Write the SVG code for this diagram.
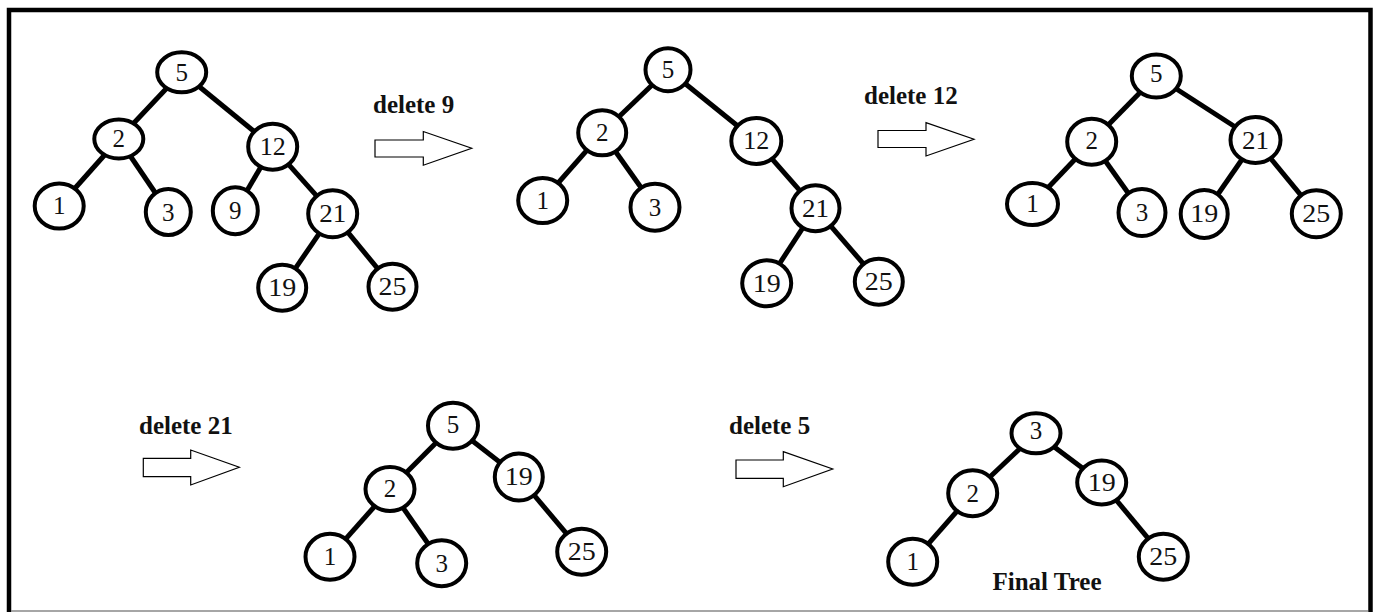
<svg xmlns="http://www.w3.org/2000/svg" width="1379" height="612" viewBox="0 0 1379 612">
<style>
.n ellipse{fill:#fff;stroke:#000;stroke-width:4}
.n text{font-family:"Liberation Serif","Times New Roman",serif;font-size:25px;fill:#111;text-anchor:middle}
.e line{stroke:#000;stroke-width:5;stroke-linecap:butt}
.lbl{font-family:"Liberation Serif","Times New Roman",serif;font-size:25px;font-weight:bold;fill:#111}
.arr{fill:#fff;stroke:#000;stroke-width:1.2;stroke-linejoin:miter}
</style>
<rect x="0" y="0" width="1379" height="612" fill="#fff"/>
<path d="M9,612 V10 H1370.5 V612" fill="none" stroke="#000" stroke-width="4.5"/>
<line x1="11" y1="611" x2="1368" y2="611" stroke="#888" stroke-width="1.5"/>

<g id="connectors" class="e">
<line x1="181.7" y1="72.3" x2="118.8" y2="139"/>
<line x1="181.7" y1="72.3" x2="272.7" y2="146.7"/>
<line x1="118.8" y1="139" x2="59.2" y2="206"/>
<line x1="118.8" y1="139" x2="168.3" y2="212"/>
<line x1="272.7" y1="146.7" x2="235.3" y2="210.8"/>
<line x1="272.7" y1="146.7" x2="332.7" y2="213.8"/>
<line x1="332.7" y1="213.8" x2="282.2" y2="287.7"/>
<line x1="332.7" y1="213.8" x2="392.5" y2="286.7"/>
<line x1="668" y1="69.7" x2="602.2" y2="132.8"/>
<line x1="668" y1="69.7" x2="756.3" y2="141"/>
<line x1="602.2" y1="132.8" x2="542.7" y2="200.5"/>
<line x1="602.2" y1="132.8" x2="655" y2="207.2"/>
<line x1="756.3" y1="141" x2="815.5" y2="208.3"/>
<line x1="815.5" y1="208.3" x2="766.7" y2="283.3"/>
<line x1="815.5" y1="208.3" x2="878.8" y2="281.7"/>
<line x1="1156.3" y1="76" x2="1091.7" y2="141.7"/>
<line x1="1156.3" y1="76" x2="1255.5" y2="140"/>
<line x1="1091.7" y1="141.7" x2="1032.5" y2="204"/>
<line x1="1091.7" y1="141.7" x2="1142" y2="212.5"/>
<line x1="1255.5" y1="140" x2="1204.2" y2="214"/>
<line x1="1255.5" y1="140" x2="1316.3" y2="213.8"/>
<line x1="453" y1="425.7" x2="390" y2="489"/>
<line x1="453" y1="425.7" x2="518.8" y2="477"/>
<line x1="390" y1="489" x2="330" y2="556.7"/>
<line x1="390" y1="489" x2="441.7" y2="563.3"/>
<line x1="518.8" y1="477" x2="581.7" y2="551.7"/>
<line x1="1036" y1="433.3" x2="972.7" y2="493.3"/>
<line x1="1036" y1="433.3" x2="1101.7" y2="482.5"/>
<line x1="972.7" y1="493.3" x2="912.7" y2="561.7"/>
<line x1="1101.7" y1="482.5" x2="1163.3" y2="556.7"/>
</g>

<g id="t1-n5" class="n"><ellipse cx="181.7" cy="72.3" rx="24.5" ry="20"/><text x="181.7" y="80.5">5</text></g>
<g id="t1-n2" class="n"><ellipse cx="118.8" cy="139" rx="24.5" ry="19.5"/><text x="118.8" y="147">2</text></g>
<g id="t1-n12" class="n"><ellipse cx="272.7" cy="146.7" rx="24.5" ry="23"/><text x="272.7" y="155" textLength="26" lengthAdjust="spacingAndGlyphs">12</text></g>
<g id="t1-n1" class="n"><ellipse cx="59.2" cy="206" rx="24.5" ry="22.5"/><text x="59.2" y="213.5">1</text></g>
<g id="t1-n3" class="n"><ellipse cx="168.3" cy="212" rx="22.5" ry="23"/><text x="168.3" y="220.5">3</text></g>
<g id="t1-n9" class="n"><ellipse cx="235.3" cy="210.8" rx="22.5" ry="23.5"/><text x="235.3" y="218.5">9</text></g>
<g id="t1-n21" class="n"><ellipse cx="332.7" cy="213.8" rx="24.5" ry="23.5"/><text x="332.7" y="222" textLength="27" lengthAdjust="spacingAndGlyphs">21</text></g>
<g id="t1-n19" class="n"><ellipse cx="282.2" cy="287.7" rx="24" ry="23"/><text x="282.2" y="296" textLength="28" lengthAdjust="spacingAndGlyphs">19</text></g>
<g id="t1-n25" class="n"><ellipse cx="392.5" cy="286.7" rx="24" ry="23"/><text x="392.5" y="295" textLength="28" lengthAdjust="spacingAndGlyphs">25</text></g>

<g id="t2-n5" class="n"><ellipse cx="668" cy="69.7" rx="22.5" ry="21.5"/><text x="668" y="77.5">5</text></g>
<g id="t2-n2" class="n"><ellipse cx="602.2" cy="132.8" rx="24" ry="22.5"/><text x="602.2" y="141">2</text></g>
<g id="t2-n12" class="n"><ellipse cx="756.3" cy="141" rx="25" ry="23"/><text x="756.3" y="149" textLength="26" lengthAdjust="spacingAndGlyphs">12</text></g>
<g id="t2-n1" class="n"><ellipse cx="542.7" cy="200.5" rx="24.5" ry="22.5"/><text x="542.7" y="208.5">1</text></g>
<g id="t2-n3" class="n"><ellipse cx="655" cy="207.2" rx="24.5" ry="23.5"/><text x="655" y="215.5">3</text></g>
<g id="t2-n21" class="n"><ellipse cx="815.5" cy="208.3" rx="24" ry="23"/><text x="815.5" y="216.5" textLength="27" lengthAdjust="spacingAndGlyphs">21</text></g>
<g id="t2-n19" class="n"><ellipse cx="766.7" cy="283.3" rx="24.5" ry="23"/><text x="766.7" y="291.5" textLength="28" lengthAdjust="spacingAndGlyphs">19</text></g>
<g id="t2-n25" class="n"><ellipse cx="878.8" cy="281.7" rx="24" ry="23"/><text x="878.8" y="289.5" textLength="28" lengthAdjust="spacingAndGlyphs">25</text></g>

<g id="t3-n5" class="n"><ellipse cx="1156.3" cy="76" rx="24.5" ry="21.5"/><text x="1156.3" y="81.5">5</text></g>
<g id="t3-n2" class="n"><ellipse cx="1091.7" cy="141.7" rx="24.5" ry="23"/><text x="1091.7" y="148.5">2</text></g>
<g id="t3-n21" class="n"><ellipse cx="1255.5" cy="140" rx="25" ry="23"/><text x="1255.5" y="148.5" textLength="27" lengthAdjust="spacingAndGlyphs">21</text></g>
<g id="t3-n1" class="n"><ellipse cx="1032.5" cy="204" rx="25.5" ry="21"/><text x="1032.5" y="211.5">1</text></g>
<g id="t3-n3" class="n"><ellipse cx="1142" cy="212.5" rx="23.5" ry="23.5"/><text x="1142" y="220.5">3</text></g>
<g id="t3-n19" class="n"><ellipse cx="1204.2" cy="214" rx="23.5" ry="24"/><text x="1204.2" y="222" textLength="28" lengthAdjust="spacingAndGlyphs">19</text></g>
<g id="t3-n25" class="n"><ellipse cx="1316.3" cy="213.8" rx="24.5" ry="23.5"/><text x="1316.3" y="222" textLength="28" lengthAdjust="spacingAndGlyphs">25</text></g>

<g id="t4-n5" class="n"><ellipse cx="453" cy="425.7" rx="25" ry="23"/><text x="453" y="432.5">5</text></g>
<g id="t4-n19" class="n"><ellipse cx="518.8" cy="477" rx="24" ry="23.5"/><text x="518.8" y="484.5" textLength="28" lengthAdjust="spacingAndGlyphs">19</text></g>
<g id="t4-n2" class="n"><ellipse cx="390" cy="489" rx="24.5" ry="22"/><text x="390" y="497">2</text></g>
<g id="t4-n1" class="n"><ellipse cx="330" cy="556.7" rx="24.5" ry="23"/><text x="330" y="564.5">1</text></g>
<g id="t4-n3" class="n"><ellipse cx="441.7" cy="563.3" rx="24.5" ry="23"/><text x="441.7" y="571.5">3</text></g>
<g id="t4-n25" class="n"><ellipse cx="581.7" cy="551.7" rx="24.5" ry="23"/><text x="581.7" y="559.5" textLength="28" lengthAdjust="spacingAndGlyphs">25</text></g>

<g id="t5-n3" class="n"><ellipse cx="1036" cy="433.3" rx="24.5" ry="20"/><text x="1036" y="439">3</text></g>
<g id="t5-n2" class="n"><ellipse cx="972.7" cy="493.3" rx="24.5" ry="23"/><text x="972.7" y="501.5">2</text></g>
<g id="t5-n19" class="n"><ellipse cx="1101.7" cy="482.5" rx="24.5" ry="22"/><text x="1101.7" y="490.5" textLength="28" lengthAdjust="spacingAndGlyphs">19</text></g>
<g id="t5-n1" class="n"><ellipse cx="912.7" cy="561.7" rx="24.5" ry="23"/><text x="912.7" y="569.5">1</text></g>
<g id="t5-n25" class="n"><ellipse cx="1163.3" cy="556.7" rx="24.5" ry="23"/><text x="1163.3" y="564.5" textLength="28" lengthAdjust="spacingAndGlyphs">25</text></g>

<g id="step-delete-9">
<polygon class="arr" points="375,140 423.3,140 423.3,131.5 471.7,148.3 423.3,165.2 423.3,157 375,157"/>
<text class="lbl" x="373" y="113">delete 9</text>
</g>
<g id="step-delete-12">
<polygon class="arr" points="878,130.5 926,130.5 926,122.7 974,139.3 926,156 926,147.5 878,147.5"/>
<text class="lbl" x="864" y="103.5">delete 12</text>
</g>
<g id="step-delete-21">
<polygon class="arr" points="143.3,458.3 190.7,458.3 190.7,450 239.3,467.3 190.7,485 190.7,476.7 143.3,476.7"/>
<text class="lbl" x="139" y="433.5">delete 21</text>
</g>
<g id="step-delete-5">
<polygon class="arr" points="736,460 783.3,460 783.3,451.7 832.7,469 783.3,486.7 783.3,478.3 736,478.3"/>
<text class="lbl" x="729" y="433.5">delete 5</text>
</g>
<g id="final-label">
<text class="lbl" x="992.5" y="589.5">Final Tree</text>
</g>
</svg>
